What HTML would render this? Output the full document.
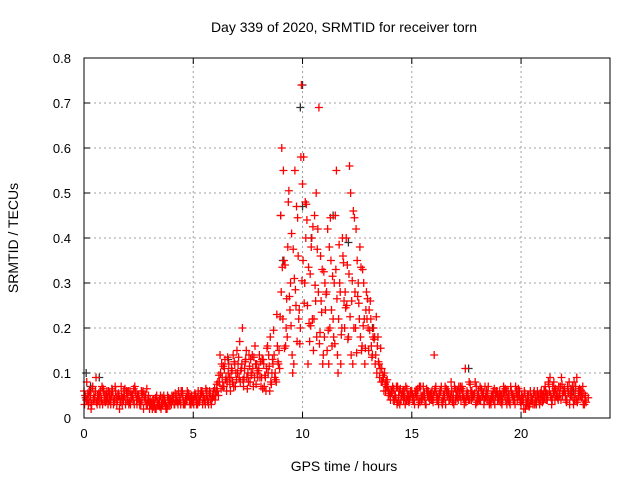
<!DOCTYPE html>
<html><head><meta charset="utf-8"><style>
body{margin:0;background:#fff}
svg{display:block;font-family:"Liberation Sans",sans-serif}
</style></head><body>
<svg id="chart" width="640" height="480" viewBox="0 0 640 480">
<text x="344" y="32" text-anchor="middle" font-size="14">Day 339 of 2020, SRMTID for receiver torn</text>
<text x="344" y="471" text-anchor="middle" font-size="14">GPS time / hours</text>
<text transform="translate(18,238) rotate(-90)" text-anchor="middle" font-size="14">SRMTID / TECUs</text>
<g id="grid"></g>
<g id="ticks"></g>
<g id="pts"></g>
<rect x="84" y="58" width="526" height="360" fill="none" stroke="#000" stroke-width="1"/>
</svg>
<script>
const xTicks=[0,5,10,15,20];
const yTicks=[0,0.1,0.2,0.3,0.4,0.5,0.6,0.7,0.8];
const yTickLabels=["0","0.1","0.2","0.3","0.4","0.5","0.6","0.7","0.8"];
const seriesA=[6,4,3,5,7,4,3,5,4,6,5,3,4,6,4,3,5,7,4,3,4,6,5,3,4,5,3,6,4,3,2,3,4,2,3,5,3,4,2,4,3,5,4,3,4,6,3,4,5,3,4,5,3,4,6,4,5,3,4,5,4,6,8,12,7,9,10,6,8,12,15,9,11,7,13,10,8,14,9,12,11,7,13,9,16,6,10,14,8,12,45,22,34,18,27,41,12,25,36,20,52,30,44,21,38,15,26,42,19,33,18,28,12,35,22,45,14,30,20,26,40,18,50,12,28,35,22,15,30,24,20,26,14,18,10,12,8,9,6,7,5,6,4,7,5,4,6,3,5,4,6,4,5,3,7,5,4,6,5,4,5,7,4,6,3,5,6,4,8,5,4,6,5,7,3,5,4,6,5,8,5,4,6,3,5,7,4,5,3,6,4,5,7,4,6,3,5,4,6,5,3,4,2,5,3,4,6,3,5,4,5,7,4,6,3,8,5,4,7,5,6,4,8,5,3,7,4,6,5,3];
const seriesB=[3,8,5,2,4,6,5,3,7,4,4,6,3,5,7,4,2,5,6,4,6,3,5,7,3,4,6,2,5,4,4,2,3,5,3,2,4,3,5,3,5,3,4,6,3,5,3,6,4,5,3,4,6,5,3,4,6,5,3,6,5,8,14,9,11,6,12,9,14,7,10,17,12,9,15,8,13,11,16,10,14,9,12,6,10,18,13,9,23,15,28,55,16,38,24,14,31,47,22,58,35,48,25,17,40,22,50,28,36,12,30,15,38,24,18,33,10,28,40,20,25,32,14,46,20,27,38,16,22,28,15,22,18,12,16,9,11,6,8,5,4,7,5,3,6,5,4,7,4,5,5,3,6,4,5,7,3,5,4,6,14,5,3,6,4,7,5,4,6,3,6,4,7,5,4,6,8,4,5,3,4,7,5,4,6,4,3,6,5,4,6,3,5,6,4,7,5,3,4,6,5,2,4,3,6,4,3,5,4,6,4,6,5,9,4,6,5,7,4,6,5,7,3,6,8,4,6,5,7,4];
const seriesC=[5,4,6,3,5,9,4,6,3,5,6,4,5,3,6,5,4,3,5,6,3,5,4,6,5,3,4,5,3,5,3,4,2,3,4,3,5,2,3,4,4,3,5,4,6,3,4,5,3,4,5,3,4,6,5,3,4,6,4,5,6,5,10,7,13,8,9,11,7,10,12,8,20,11,9,14,10,7,12,9,9,13,7,11,14,8,12,10,16,11,60,35,20,48,30,10,55,17,24,74,58,40,12,32,22,45,18,69,26,14,24,42,20,16,30,55,22,12,36,28,34,56,26,20,42,30,18,33,12,22,24,16,20,14,18,11,8,10,7,6,6,4,5,7,3,5,6,4,5,6,4,6,5,7,4,5,3,6,5,4,6,4,5,7,5,3,6,5,4,7,5,7,4,6,11,5,4,6,5,7,6,4,5,7,4,3,5,4,6,5,5,4,6,3,5,6,4,7,5,4,4,6,3,5,4,3,5,6,3,5,6,4,8,5,7,4,6,5,9,6,4,6,5,7,4,9,5,6,3,5];
const seriesD=[4.5,5.5,3.5,6.5,4.5,3.5,5.5,4.5,6.5,3.5,4.5,5.5,6.5,3.5,4.5,5.5,3.5,4.5,6.5,5.5,3.5,4.5,6.5,5.5,4.5,3.5,5.5,4.5,6.5,3.5,3.5,2.5,4.5,3.5,2.5,4.5,3.5,2.5,4.5,3.5,4.5,5.5,3.5,4.5,5.5,3.5,4.5,5.5,4.5,3.5,5.5,4.5,3.5,5.5,4.5,6.5,3.5,5.5,4.5,6.5,7.5,9.5,6.5,11.5,8.5,13.5,7.5,10.5,12.5,8.5,13.5,10.5,8.5,12.5,6.5,11.5,9.5,13.5,7.5,10.5,12.5,6.5,9.5,15.5,11.5,7.5,19.5,8.5,12.5,22.5,33.5,15.5,26.5,50.5,20.5,37.5,28.5,44.5,16.5,30.5,25.5,47.5,33.5,20.5,42.5,29.5,37.5,16.5,23.5,32.5,27.5,19.5,44.5,31.5,16.5,26.5,38.5,18.5,34.5,24.5,17.5,22.5,30.5,44.5,14.5,25.5,33.5,20.5,15.5,26.5,19.5,13.5,17.5,22.5,12.5,15.5,9.5,7.5,8.5,5.5,5.5,6.5,4.5,3.5,6.5,5.5,4.5,6.5,3.5,5.5,4.5,5.5,6.5,3.5,4.5,5.5,6.5,4.5,5.5,3.5,6.5,4.5,5.5,3.5,4.5,6.5,5.5,4.5,3.5,6.5,4.5,5.5,6.5,4.5,3.5,5.5,7.5,4.5,5.5,3.5,4.5,6.5,5.5,4.5,5.5,3.5,4.5,6.5,5.5,4.5,3.5,5.5,6.5,4.5,3.5,5.5,4.5,5.5,6.5,3.5,4.5,5.5,3.5,2.5,4.5,5.5,3.5,4.5,5.5,3.5,4.5,5.5,7.5,4.5,5.5,6.5,4.5,5.5,7.5,6.5,3.5,5.5,6.5,4.5,5.5,3.5,6.5,4.5,5.5,3.5,4.5];
const blackTimes=[0.1,0.7,9.0,9.1,9.9,10.0,10.0,10.4,11.4,12.1,17.6,22.4,0.3,6.6,13.2];
const blackValues=[0.10,0.09,0.45,0.35,0.69,0.74,0.47,0.40,0.45,0.39,0.11,0.06,0.07,0.13,0.20];
const X0=84,X1=610,Y0=418,Y1=58,XMAX=24.07,YMAX=0.8;
const sx=t=>X0+t/XMAX*(X1-X0), sy=v=>Y0-v/YMAX*(Y0-Y1);
const NS="http://www.w3.org/2000/svg";
const grid=document.getElementById('grid'),ticks=document.getElementById('ticks'),pts=document.getElementById('pts');
function mk(tag,attrs,parent){const e=document.createElementNS(NS,tag);for(const k in attrs)e.setAttribute(k,attrs[k]);parent.appendChild(e);return e;}
xTicks.forEach(t=>{const x=sx(t);
 if(t>0){const g=mk('line',{x1:x,x2:x,y1:Y0,y2:Y1,stroke:'#a0a0a0','stroke-dasharray':'2,3'},grid);
 
 }
 mk('line',{x1:x,x2:x,y1:Y0,y2:Y0-6,stroke:'#000'},ticks);
 mk('line',{x1:x,x2:x,y1:Y1,y2:Y1+6,stroke:'#000'},ticks);
 const l=mk('text',{x:x,y:Y0+20,'text-anchor':'middle','font-size':'13'},ticks);l.textContent=t;
 
 
});
yTicks.forEach((v,i)=>{const y=sy(v);
 if(v>0&&v<0.8){const g=mk('line',{x1:X0,x2:X1,y1:y,y2:y,stroke:'#a0a0a0','stroke-dasharray':'2,3'},grid);
 
 }
 mk('line',{x1:X0,x2:X0+6,y1:y,y2:y,stroke:'#000'},ticks);
 mk('line',{x1:X1,x2:X1-6,y1:y,y2:y,stroke:'#000'},ticks);
 const l=mk('text',{x:X0-13,y:y+5,'text-anchor':'end','font-size':'13'},ticks);l.textContent=yTickLabels[i];
 
 
});
function plus(t,v,col){const x=sx(t),y=sy(v);
 const p=mk('path',{d:`M${x-4},${y}h8M${x},${y-4}v8`,stroke:col,'stroke-width':'1.3',fill:'none'},pts);
 
 
}
blackTimes.forEach((t,i)=>plus(t,blackValues[i],'#333'));
[[seriesA,0],[seriesB,0.025],[seriesC,0.05],[seriesD,0.075]].forEach(([s,off])=>s.forEach((v,i)=>plus(i*0.1+off,v/100,'#ff0000')));
</script>
</body></html>
